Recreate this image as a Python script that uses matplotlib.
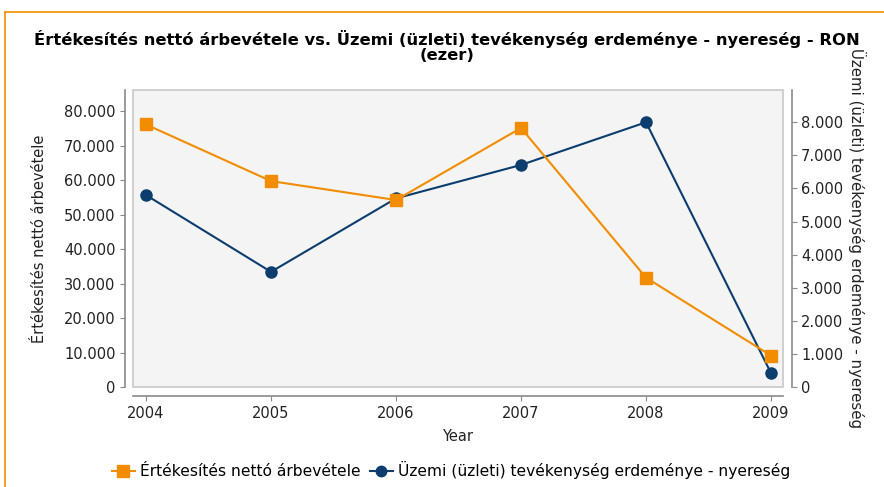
import matplotlib
matplotlib.use('Agg')
import matplotlib.pyplot as plt
from matplotlib.ticker import FuncFormatter, MultipleLocator
from matplotlib.patches import Rectangle
from matplotlib.lines import Line2D

years = [2004, 2005, 2006, 2007, 2008, 2009]
sales = [76100, 59700, 54200, 75100, 31700, 9100]        # left axis
profit = [5800, 3480, 5700, 6710, 8000, 420]             # right axis

sales_label = 'Értékesítés nettó árbevétele'
profit_label = 'Üzemi (üzleti) tevékenység erdeménye - nyereség'
title = 'Értékesítés nettó árbevétele vs. Üzemi (üzleti) tevékenység erdeménye - nyereség - RON\n(ezer)'

orange = '#f28c00'
navy = '#0b3d6e'
spine_c = '#8a8a8a'
txt_c = '#222222'

def thousands(v, pos):
    return '{:,.0f}'.format(v).replace(',', '.')

fig = plt.figure(figsize=(8.84, 4.87), dpi=100)
ax = fig.add_axes([133/884, 1-387/487, 650/884, 297/487])
ax2 = ax.twinx()

# background sits on the twin (drawn first), orange series on top
ax2.patch.set_visible(True)
ax2.patch.set_facecolor('#f4f4f4')
ax.patch.set_visible(False)
ax.set_zorder(ax2.get_zorder() + 1)

ax.add_patch(Rectangle((0, 0), 1, 1, transform=ax.transAxes, fill=False,
                       ec='#c8c8c8', lw=1.2, clip_on=False, zorder=5))
# faint grid lives on the lower axes so it stays under both lines
ax2.xaxis.grid(True, color='#fbfbfb', ls=':', lw=0.8)
ax2.axhline(0, color='#8c8cd0', ls='--', lw=0.8, zorder=1.8)

ax.plot(years, sales, color=orange, lw=1.5, marker='s', ms=8.5, mec=orange, zorder=4)
ax2.plot(years, profit, color=navy, lw=1.5, marker='o', ms=8, mec=navy, zorder=3)

ax.set_xlim(2003.896, 2009.096)
ax.set_ylim(0, 86100)
ax2.set_ylim(0, 8975)
ax.yaxis.set_major_locator(MultipleLocator(10000))
ax2.yaxis.set_major_locator(MultipleLocator(1000))
ax.yaxis.set_major_formatter(FuncFormatter(thousands))
ax2.yaxis.set_major_formatter(FuncFormatter(thousands))
ax.set_xticks(years)

for a in (ax, ax2):
    for s in a.spines.values():
        s.set_visible(False)
ax.spines['left'].set_visible(True)
ax.spines['left'].set_position(('outward', 6))
ax.spines['bottom'].set_visible(True)
ax.spines['bottom'].set_position(('outward', 6.5))
ax2.spines['right'].set_visible(True)
ax2.spines['right'].set_position(('outward', 6.5))
for s in (ax.spines['left'], ax.spines['bottom'], ax2.spines['right']):
    s.set_color(spine_c)
    s.set_linewidth(1.2)

ax.tick_params(axis='both', colors=spine_c, labelcolor=txt_c, labelsize=10.5, length=3.5)
ax2.tick_params(axis='y', colors=spine_c, labelcolor=txt_c, labelsize=10.5, length=3.5)
ax2.tick_params(axis='x', length=0)
ax.tick_params(axis='y', pad=3)
ax2.tick_params(axis='y', pad=3)

ax.set_xlabel('Year', fontsize=10.5, color=txt_c, labelpad=6)
ax.set_ylabel(sales_label, fontsize=10.5, color=txt_c, labelpad=12)
ax2.set_ylabel(profit_label, fontsize=10.8, color=txt_c, rotation=-90, labelpad=16)

fig.text(0.506, 0.905, title, ha='center', va='center', fontsize=11.8,
         fontweight='bold', linespacing=1.0)

handles = [Line2D([], [], color=orange, lw=1.5, marker='s', ms=8, mec=orange),
           Line2D([], [], color=navy, lw=1.5, marker='o', ms=7.5, mec=navy)]
fig.legend(handles, [sales_label, profit_label], loc='center', ncol=2,
           bbox_to_anchor=(0.51, 0.035), frameon=False, fontsize=11.2,
           handlelength=1.5, handletextpad=0.3, columnspacing=0.6)

# orange frame of the surrounding panel
fig.add_artist(Line2D([5/884, 5/884], [0, 1-12/487], color=orange, lw=1.2,
                      transform=fig.transFigure))
fig.add_artist(Line2D([5/884, 1], [1-12/487, 1-12/487], color=orange, lw=1.2,
                      transform=fig.transFigure))

fig.savefig('out.png', dpi=100)
